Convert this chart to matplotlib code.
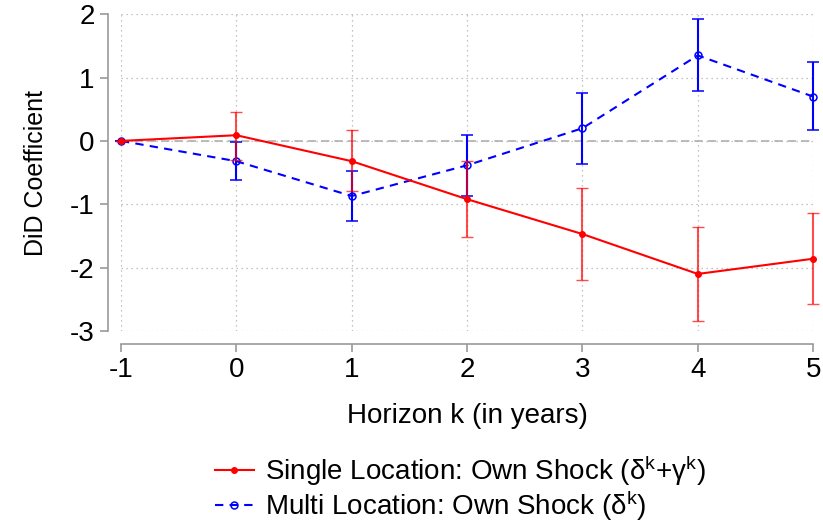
import matplotlib
matplotlib.use("Agg")
import matplotlib.pyplot as plt
from matplotlib.lines import Line2D

# Datos
horizonte = [-1, 0, 1, 2, 3, 4, 5]

single_coef = [0.0, 0.09, -0.32, -0.92, -1.47, -2.10, -1.86]
single_lo = [0.0, -0.30, -0.79, -1.52, -2.19, -2.85, -2.58]
single_hi = [0.0, 0.46, 0.17, -0.31, -0.75, -1.36, -1.14]

multi_coef = [0.0, -0.32, -0.87, -0.385, 0.20, 1.35, 0.70]
multi_lo = [0.0, -0.62, -1.27, -0.87, -0.36, 0.79, 0.17]
multi_hi = [0.0, -0.01, -0.47, 0.10, 0.75, 1.92, 1.25]

yticks = [-3, -2, -1, 0, 1, 2]

plt.rcParams['font.family'] = ['Liberation Sans', 'DejaVu Sans']
plt.rcParams['mathtext.default'] = 'regular'
plt.rcParams['axes.unicode_minus'] = False

fig = plt.figure(figsize=(8.23, 5.27), dpi=100)
ax = fig.add_axes([0.147, 0.372, 0.841, 0.601])

# Rejilla y linea de referencia
ax.grid(True, linestyle=(0, (1, 3)), color='#b0b0b0', linewidth=0.9)
ax.axhline(0, color='#b0b0b0', linestyle=(0, (5, 3)), linewidth=1.2, zorder=1)

err_single = [[c - l for c, l in zip(single_coef, single_lo)],
              [h - c for c, h in zip(single_coef, single_hi)]]
err_multi = [[c - l for c, l in zip(multi_coef, multi_lo)],
             [h - c for c, h in zip(multi_coef, multi_hi)]]

estilo_multi = dict(color='blue', linestyle=(0, (4, 3)), linewidth=1.5, marker='o',
                    markersize=5, markerfacecolor='none', markeredgewidth=1.1)
estilo_single = dict(color='red', linestyle='-', linewidth=1.5, marker='o', markersize=4)

m = ax.errorbar(horizonte, multi_coef, yerr=err_multi, ecolor='blue', capsize=4,
                elinewidth=1.5, zorder=3, **estilo_multi)
s = ax.errorbar(horizonte, single_coef, yerr=err_single, ecolor=(1, 0, 0, 0.7), capsize=4,
                elinewidth=1.5, zorder=4, **estilo_single)
for cont in [m, s]:
    for art in cont.get_children():
        art.set_clip_on(False)

ax.set_xlim(-1, 5)
ax.set_ylim(-3, 2)
ax.set_xticks(horizonte)
ax.set_yticks(yticks)

for lado in ['top', 'right']:
    ax.spines[lado].set_visible(False)
for lado in ['left', 'bottom']:
    ax.spines[lado].set_position(('outward', 9.5))
    ax.spines[lado].set_color('#999999')
    ax.spines[lado].set_linewidth(1.2)
ax.tick_params(colors='#999999', length=6, width=1.2, labelsize=20, labelcolor='black')

ax.set_xlabel("Horizon k (in years)", fontsize=20, labelpad=14)
ax.set_ylabel("DiD Coefficient", fontsize=18, labelpad=16)

handles = [Line2D([], [], **estilo_single), Line2D([], [], **estilo_multi)]
labels = ['Single Location: Own Shock ($\\delta^{k}$+$\\gamma^{k}$)',
          'Multi Location: Own Shock ($\\delta^{k}$)']
ax.legend(handles, labels, loc='upper center', bbox_to_anchor=(0.49, -0.308),
          frameon=False, fontsize=20, handlelength=1.4, handletextpad=0.4,
          labelspacing=0.02)

plt.savefig("out.png", dpi=100)
